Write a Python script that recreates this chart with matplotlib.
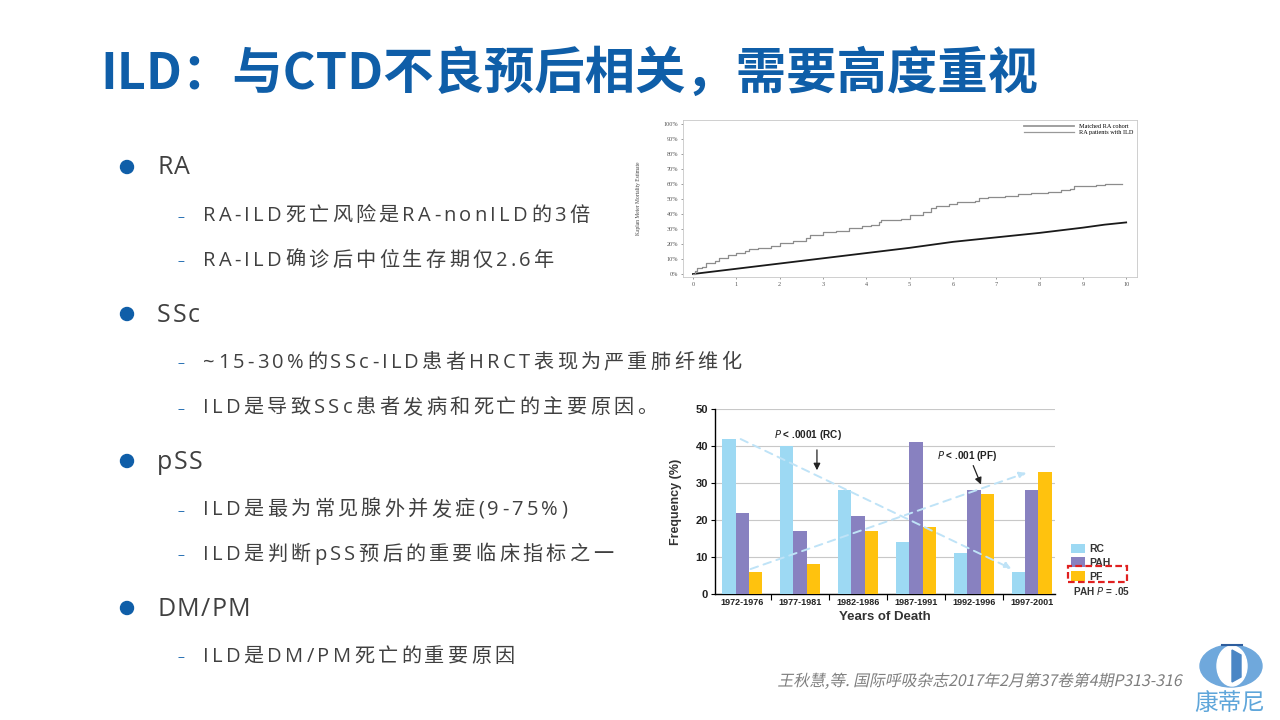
import matplotlib
matplotlib.use("Agg")
import matplotlib.pyplot as plt
import matplotlib.patches as patches
from matplotlib.textpath import TextPath
from matplotlib.font_manager import FontProperties
from matplotlib.transforms import Affine2D, IdentityTransform

W, H = 1280, 720
BODY = ['Open Sans', 'Noto Sans CJK SC']
CJK = ['Noto Sans CJK SC', 'DejaVu Sans']
BLUE = '#0F5EA8'
GREY_TXT = '#404040'

# ---- slide text ----
title = 'ILD：与CTD不良预后相关，需要高度重视'
sections = [
    ('RA', ['RA-ILD死亡风险是RA-nonILD的3倍', 'RA-ILD确诊后中位生存期仅2.6年']),
    ('SSc', ['~15-30%的SSc-ILD患者HRCT表现为严重肺纤维化', 'ILD是导致SSc患者发病和死亡的主要原因。']),
    ('pSS', ['ILD是最为常见腺外并发症(9-75%)', 'ILD是判断pSS预后的重要临床指标之一']),
    ('DM/PM', ['ILD是DM/PM死亡的重要原因']),
]
citation = '王秋慧,等. 国际呼吸杂志2017年2月第37卷第4期P313-316'

# ---- Kaplan-Meier chart ----
km_years = list(range(0, 11))
ild_t = [0, 0.05, 0.1, 0.2, 0.3, 0.5, 0.6, 0.8, 1.0, 1.2, 1.3, 1.5, 1.8, 2.0, 2.3,
         2.6, 2.7, 3.0, 3.3, 3.6, 3.9, 4.1, 4.3, 4.35, 4.8, 5.0, 5.3, 5.5, 5.6, 5.9,
         6.1, 6.5, 6.6, 6.8, 7.2, 7.5, 7.8, 8.0, 8.2, 8.5, 8.7, 8.8, 9.3, 9.5, 9.9]
ild_m = [0, 2, 4, 5, 7.5, 9, 10.5, 12.5, 14, 15.5, 17, 17.5, 19, 20.5, 22,
         24, 26, 28, 28.5, 30.5, 32, 33, 34.5, 36, 37, 39.5, 41.5, 44, 45.5, 46.5,
         48, 49, 50.5, 51.5, 52, 53.5, 54, 54.5, 55, 56, 57, 59, 59.5, 60, 60]
ctl_t = [0, 1, 2, 3, 4, 5, 6, 6.5, 7, 8, 9, 9.5, 10]
ctl_m = [0, 3.5, 7, 10.5, 14, 17.5, 21.5, 23, 24.5, 27.5, 31, 33, 34.5]

# ---- bar chart ----
periods = ['1972-1976', '1977-1981', '1982-1986', '1987-1991', '1992-1996', '1997-2001']
rc = [42, 40, 28, 14, 11, 6]
pah = [22, 17, 21, 41, 28, 28]
pf = [6, 8, 17, 18, 27, 33]


def box(x0, y0, x1, y1):
    return [x0 / W, 1 - y1 / H, (x1 - x0) / W, (y1 - y0) / H]


fig = plt.figure(figsize=(12.8, 7.2), dpi=100)
fig.patch.set_facecolor('white')
renderer = fig.canvas.get_renderer()


def spaced(x, y, s, size, color, gap, family=BODY, **kw):
    for ch in s:
        t = fig.text(x / W, 1 - y / H, ch, fontsize=size, color=color,
                     va='center', ha='left', family=family, **kw)
        w = t.get_window_extent(renderer).width
        x += w + gap
    return x


# title
fig.text(100 / W, 1 - 74 / H, title, fontsize=36.3, weight='bold', color=BLUE,
         family=CJK, va='center', ha='left')

# bullets
y = 168
for head, subs in sections:
    fig.patches.append(patches.Ellipse((127 / W, 1 - (y - 1) / H), 13 / W, 13 / H,
                                       transform=fig.transFigure, color=BLUE))
    spaced(157, y, head, 18, GREY_TXT, 1.5)
    y += 48
    for s in subs:
        fig.text(177 / W, 1 - (y + 1) / H, '–', fontsize=10, color='#2E75B6',
                 va='center', ha='left', family=BODY)
        spaced(203, y, s, 14.5, GREY_TXT, 3.3)
        y += 45
    y += 9

# citation, slanted like the reference (the CJK font has no italic face)
fp = FontProperties(family='Noto Sans CJK SC', size=11.4)
tp = TextPath((0, 0), citation, prop=fp)
sc = 100 / 72
tp = Affine2D().scale(sc).skew_deg(12, 0).transform_path(tp)
w_px = tp.get_extents().x1
tp = Affine2D().translate(1183 - w_px, H - 686).transform_path(tp)
fig.patches.append(patches.PathPatch(tp, transform=IdentityTransform(),
                                     facecolor='#7F7F7F', edgecolor='none'))

# ---- KM axes ----
ax1 = fig.add_axes(box(683, 120, 1137, 277))
ax1.plot(ctl_t, ctl_m, color='#1A1A1A', lw=1.3, label='Matched RA cohort')
ax1.plot(ild_t, ild_m, color='#8C8C8C', lw=0.9, drawstyle='steps-post',
         label='RA patients with ILD')
ax1.set_xlim(-0.23, 10.25)
ax1.set_ylim(-2, 103)
ax1.set_xticks(km_years)
ax1.set_yticks(range(0, 101, 10))
ax1.set_yticklabels([f'{v}%' for v in range(0, 101, 10)])
ax1.tick_params(labelsize=4.5, length=1.5, width=0.4, colors='#555555', pad=2)
for lab in ax1.get_xticklabels() + ax1.get_yticklabels():
    lab.set_family('Liberation Serif')
for sp in ax1.spines.values():
    sp.set_color('#C8C8C8')
    sp.set_linewidth(0.6)
ax1.set_ylabel('Kaplan Meier Mortality Estimate', fontsize=4, family='Liberation Serif',
               color='#444444', labelpad=16)
leg = ax1.legend(loc='upper right', frameon=False, handlelength=8,
                 borderaxespad=0.2, labelspacing=0.1,
                 prop={'family': 'Liberation Serif', 'size': 4.5})
for h in leg.get_lines():
    h.set_color('#999999')

# ---- bar chart axes ----
ax2 = fig.add_axes(box(715, 409, 1055, 594))
xs = list(range(len(periods)))
bw = 0.23
ax2.bar([x - bw for x in xs], rc, bw, color='#9DD9F3', label='RC', zorder=3)
ax2.bar(xs, pah, bw, color='#8881C0', label='PAH', zorder=3)
ax2.bar([x + bw for x in xs], pf, bw, color='#FFC20E', label='PF', zorder=3)
ax2.set_xlim(-0.47, 5.4)
ax2.set_ylim(0, 50)
ax2.set_yticks(range(0, 51, 10))
ax2.yaxis.grid(True, color='#C8C8C8', lw=0.8, zorder=0)
ax2.set_xticks(xs)
ax2.set_xticklabels(periods)
ax2.set_xticks([x + 0.5 for x in xs[:-1]], minor=True)
ax2.tick_params(axis='x', which='major', length=0, labelsize=6.5, pad=3)
ax2.tick_params(axis='x', which='minor', length=4, width=0.8, direction='out')
ax2.tick_params(axis='y', length=3, width=0.8, labelsize=8, pad=2)
for lab in ax2.get_xticklabels() + ax2.get_yticklabels():
    lab.set_family('Liberation Sans')
    lab.set_weight('bold')
    lab.set_color('#222222')
for s in ('top', 'right'):
    ax2.spines[s].set_visible(False)
ax2.spines['left'].set_linewidth(1.0)
ax2.spines['bottom'].set_linewidth(1.0)
ax2.set_xlabel('Years of Death', fontsize=9.5, weight='bold', family='Liberation Sans',
               color='#333333', labelpad=3)
ax2.set_ylabel('Frequency (%)', fontsize=9, weight='bold', family='Liberation Sans',
               color='#333333', labelpad=10)

# trend arrows
ax2.annotate('', xy=(4.69, 6.5), xytext=(-0.07, 42.2),
             arrowprops=dict(arrowstyle='-|>', color='#BFE3F7', lw=1.4, ls=(0, (4, 3))),
             zorder=4)
ax2.annotate('', xy=(4.95, 33), xytext=(0.1, 6.5),
             arrowprops=dict(arrowstyle='-|>', color='#BFE3F7', lw=1.4, ls=(0, (4, 3))),
             zorder=4)
ax2.annotate('', xy=(1.29, 32.7), xytext=(1.29, 39.7),
             arrowprops=dict(arrowstyle='-|>', color='#222222', lw=0.9), zorder=5)
ax2.annotate('', xy=(4.14, 28.9), xytext=(3.97, 35.4),
             arrowprops=dict(arrowstyle='-|>', color='#222222', lw=0.9), zorder=5)
ax2.text(1.13, 43, r'$\mathit{P}$ < .0001 (RC)', fontsize=7.2, weight='bold',
         family='Liberation Sans', ha='center', va='center', color='#222222')
ax2.text(3.88, 37.4, r'$\mathit{P}$ < .001 (PF)', fontsize=7.2, weight='bold',
         family='Liberation Sans', ha='center', va='center', color='#222222')

lg = ax2.legend(loc='lower left', bbox_to_anchor=(1.035, 0.045), frameon=False,
                handlelength=1.3, handleheight=1.0, handletextpad=0.4, labelspacing=0.35,
                borderaxespad=0, prop={'family': 'Liberation Sans', 'weight': 'bold', 'size': 7.5})
for t in lg.get_texts():
    t.set_color('#333333')
fig.text(1073 / W, 1 - 591 / H, r'PAH $\mathit{P}$ = .05', fontsize=7.2, weight='bold',
         family='Liberation Sans', color='#333333', va='center', ha='left')
fig.patches.append(patches.Rectangle((1068 / W, 1 - 582 / H), 59 / W, 16 / H,
                                     transform=fig.transFigure, fill=False,
                                     edgecolor='#E02020', lw=1.6, ls=(0, (3, 1.5))))

# ---- logo ----
lax = fig.add_axes(box(1190, 640, 1272, 720))
lax.set_xlim(1190, 1272)
lax.set_ylim(720, 640)
lax.axis('off')
lax.add_patch(patches.Ellipse((1231, 666), 62, 42, color='#6FA8DC'))
lax.add_patch(patches.Ellipse((1232, 666), 30, 40, color='white'))
lax.add_patch(patches.Polygon([(1232, 650), (1241, 655), (1241, 677), (1232, 682)],
                              color='#4A86C5'))
lax.plot([1222, 1242], [645, 645], color='#2E5E9E', lw=1.5)
lax.text(1230, 703, '康蒂尼', fontsize=17, color='#5FA6DA', family=CJK,
         ha='center', va='center')

fig.savefig('out.png', dpi=100, facecolor='white')
